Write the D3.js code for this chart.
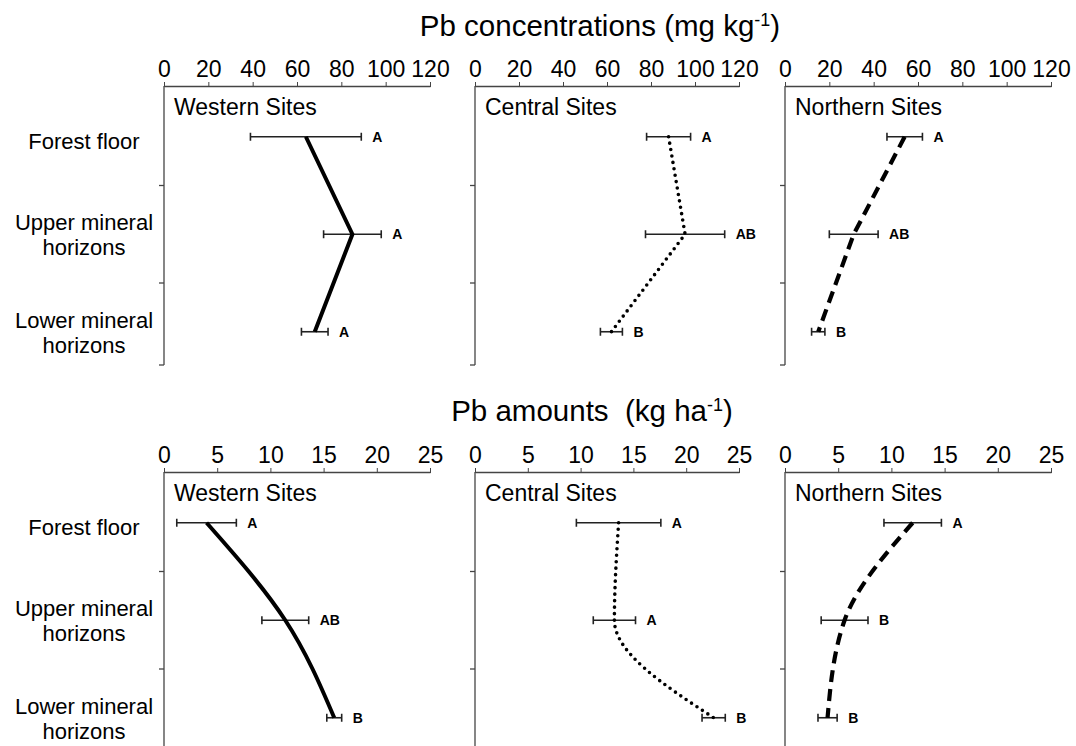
<!DOCTYPE html>
<html>
<head>
<meta charset="utf-8">
<script src="https://cdn.jsdelivr.net/npm/d3@7"></script>
<style>
  body { margin: 0; background: #fff; }
  text { font-family: "Liberation Sans", Arial, sans-serif; fill: #000; }
</style>
</head>
<body>
<div id="chart"></div>
<script>

// categories (soil layers) and site groups
var categories = ["Forest floor", "Upper mineral horizons", "Lower mineral horizons"];
var siteNames = ["Western Sites", "Central Sites", "Northern Sites"];

// Pb concentrations (mg kg-1): means, error bars, significance letters
var concTicks = [0, 20, 40, 60, 80, 100, 120];
var concWestern = [64, 85, 68],   concWesternErr = [25, 13, 6],   concWesternSig = ["A", "A", "A"];
var concCentral = [88, 95.5, 62], concCentralErr = [10, 18, 5],   concCentralSig = ["A", "AB", "B"];
var concNorthern = [54, 31, 15],  concNorthernErr = [8, 11, 3],   concNorthernSig = ["A", "AB", "B"];

// Pb amounts (kg ha-1)
var amtTicks = [0, 5, 10, 15, 20, 25];
var amtWestern = [4.0, 11.4, 16.0],  amtWesternErr = [2.8, 2.2, 0.7],  amtWesternSig = ["A", "AB", "B"];
var amtCentral = [13.6, 13.2, 22.6], amtCentralErr = [4.0, 2.0, 1.1],  amtCentralSig = ["A", "A", "B"];
var amtNorthern = [12.0, 5.6, 4.0],  amtNorthernErr = [2.7, 2.2, 0.9], amtNorthernSig = ["A", "B", "B"];

// layout
var width = 1076, height = 746;
var panelX = [[164, 430], [475, 739], [785, 1051]];
var lineStyles = [
  {dash: null, width: 4, cap: "butt"},
  {dash: "0,6.5", width: 3.6, cap: "round"},
  {dash: "12,7", width: 4.2, cap: "butt"}
];

var svg = d3.select("#chart").append("svg")
  .attr("width", width)
  .attr("height", height);

svg.append("rect").attr("width", width).attr("height", height).attr("fill", "#fff");

// draws one row of three panels
function drawRow(opts){

  var y = d3.scaleBand()
    .domain(categories)
    .range([opts.axisY + 2, opts.axisY + 2 + 292.5]);

  // row title
  var title = svg.append("text")
    .attr("x", opts.titleX)
    .attr("y", opts.titleY)
    .attr("text-anchor", "middle")
    .style("font-size", "29.5px");
  title.append("tspan").text(opts.title);
  title.append("tspan").attr("dy", -10).style("font-size", "18px").text("-1");
  title.append("tspan").attr("dy", 10).text(")");

  // category labels on the left
  categories.forEach(function(c){
    var cy = y(c) + y.bandwidth() / 2;
    var words = c === "Forest floor" ? [c] : [c.replace(" horizons", ""), "horizons"];
    var t = svg.append("text")
      .attr("text-anchor", "middle")
      .style("font-size", "22px");
    if (words.length === 1){
      t.append("tspan").attr("x", 84).attr("y", cy + 12).text(words[0]);
    } else {
      t.append("tspan").attr("x", 84).attr("y", cy - 4).text(words[0]);
      t.append("tspan").attr("x", 84).attr("y", cy + 21).text(words[1]);
    }
  });

  opts.series.forEach(function(s, i){

    var x = d3.scaleLinear()
      .domain([0, opts.max])
      .range(panelX[i]);

    var g = svg.append("g");

    // top axis
    g.append("g")
      .attr("transform", "translate(0," + opts.axisY + ")")
      .call(d3.axisTop(x).tickValues(opts.ticks).tickSizeInner(4).tickSizeOuter(0).tickPadding(5))
      .call(function(a){
        a.select(".domain").attr("stroke", "#444").attr("stroke-width", 1.3);
        a.selectAll(".tick line").attr("stroke", "#444").attr("y2", -4).attr("y1", 1);
        a.selectAll("text")
          .style("font-size", "23px")
          .style("font-family", "'Liberation Sans', Arial, sans-serif")
          .attr("fill", "#000");
      });

    // vertical category axis with ticks between bands
    var x0 = x(0);
    g.append("line")
      .attr("x1", x0).attr("x2", x0)
      .attr("y1", opts.axisY).attr("y2", opts.axisY + opts.axisLen)
      .attr("stroke", "#444").attr("stroke-width", 1.3);
    var tickYs = categories.slice(1).map(function(c){ return y(c); });
    tickYs.push(opts.axisY + opts.axisLen);
    g.selectAll(".ytick")
      .data(tickYs)
      .enter().append("line")
      .attr("class", "ytick")
      .attr("x1", x0 - 5).attr("x2", x0)
      .attr("y1", function(d){ return d; })
      .attr("y2", function(d){ return d; })
      .attr("stroke", "#444").attr("stroke-width", 1.3);

    // site name
    g.append("text")
      .attr("x", x0 + 10)
      .attr("y", opts.axisY + 29)
      .style("font-size", "23px")
      .text(siteNames[i]);

    var rows = categories.map(function(c, k){
      return {cat: c, mean: s.mean[k], err: s.err[k], sig: s.sig[k]};
    });
    var cy = function(d){ return y(d.cat) + y.bandwidth() / 2; };

    // error bars
    var eb = g.selectAll(".eb")
      .data(rows)
      .enter().append("g")
      .attr("class", "eb");
    eb.append("line")
      .attr("x1", function(d){ return x(d.mean - d.err); })
      .attr("x2", function(d){ return x(d.mean + d.err); })
      .attr("y1", cy).attr("y2", cy)
      .attr("stroke", "#222").attr("stroke-width", 1.6);
    [-1, 1].forEach(function(sign){
      eb.append("line")
        .attr("x1", function(d){ return x(d.mean + sign * d.err); })
        .attr("x2", function(d){ return x(d.mean + sign * d.err); })
        .attr("y1", function(d){ return cy(d) - 4; })
        .attr("y2", function(d){ return cy(d) + 4; })
        .attr("stroke", "#222").attr("stroke-width", 1.6);
    });

    // mean line
    var st = lineStyles[i];
    g.append("path")
      .datum(rows)
      .attr("fill", "none")
      .attr("stroke", "#000")
      .attr("stroke-width", st.width)
      .attr("stroke-linecap", st.cap)
      .attr("stroke-dasharray", st.dash)
      .attr("d", d3.line()
        .x(function(d){ return x(d.mean); })
        .y(cy)
        .curve(opts.curve));

    // significance letters
    eb.append("text")
      .attr("x", function(d){ return x(d.mean + d.err) + 11; })
      .attr("y", function(d){ return cy(d) + 5; })
      .style("font-size", "14px")
      .style("font-weight", "bold")
      .text(function(d){ return d.sig; });
  });
}

drawRow({
  title: "Pb concentrations (mg kg",
  titleX: 600, titleY: 36,
  axisY: 86, axisLen: 279,
  max: 120, ticks: concTicks,
  curve: d3.curveLinear,
  series: [
    {mean: concWestern, err: concWesternErr, sig: concWesternSig},
    {mean: concCentral, err: concCentralErr, sig: concCentralSig},
    {mean: concNorthern, err: concNorthernErr, sig: concNorthernSig}
  ]
});

drawRow({
  title: "Pb amounts\u00a0\u00a0(kg ha",
  titleX: 592, titleY: 421,
  axisY: 472, axisLen: 290,
  max: 25, ticks: amtTicks,
  curve: d3.curveMonotoneY,
  series: [
    {mean: amtWestern, err: amtWesternErr, sig: amtWesternSig},
    {mean: amtCentral, err: amtCentralErr, sig: amtCentralSig},
    {mean: amtNorthern, err: amtNorthernErr, sig: amtNorthernSig}
  ]
});

</script>
</body>
</html>
